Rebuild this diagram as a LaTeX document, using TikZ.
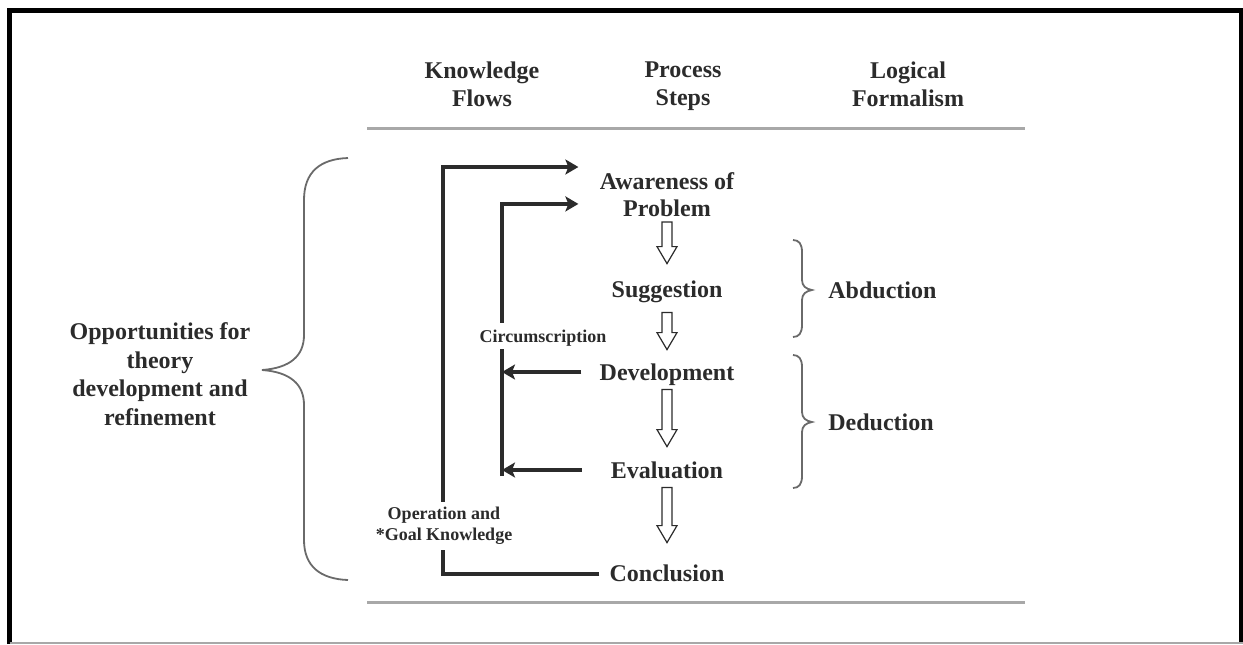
\documentclass[tikz,border=0pt]{standalone}
\usepackage{fontspec}
\setmainfont{Liberation Serif}
\usetikzlibrary{arrows.meta,calc}

\definecolor{ink}{HTML}{2B2B2B}
\definecolor{rulegray}{HTML}{A8A8A8}
\definecolor{bracegray}{HTML}{6A6A6A}

% hollow block arrow pointing down from #1 to #2
\newcommand\hollowarrow[2]{%
  \draw[hollow] let \p1=(#1), \p2=(#2) in
    (\x1-2.5pt,\y1) -- (\x1-2.5pt,\y2+8.5pt) -- (\x1-5pt,\y2+8.5pt) -- (\x1,\y2)
    -- (\x1+5pt,\y2+8.5pt) -- (\x1+2.5pt,\y2+8.5pt) -- (\x1+2.5pt,\y1) -- cycle;}

\begin{document}
\begin{tikzpicture}[x=0.5pt,y=-0.5pt,
  head/.style={font=\fontsize{12}{14}\selectfont\bfseries, text=ink, inner sep=0pt, align=center},
  multistep/.style={font=\fontsize{12}{13.5}\selectfont\bfseries, text=ink, inner sep=0pt, align=center},
  steplbl/.style={font=\fontsize{12}{14}\selectfont\bfseries, text=ink, inner sep=0pt, text height=8pt, text depth=0pt},
  sidelbl/.style={font=\fontsize{12}{14.35}\selectfont\bfseries, text=ink, inner sep=0pt, align=center},
  flowlbl/.style={font=\fontsize{9}{10.5}\selectfont\bfseries, text=ink, align=center, fill=white, inner xsep=1pt},
  flow/.style={draw=ink, line width=1.7pt},
  tip/.style={-{Stealth[length=6.5pt,width=7.5pt,inset=1.5pt]}},
  hollow/.style={draw=ink, line width=0.6pt, fill=white},
  bracestyle/.style={draw=bracegray, line width=0.9pt},
  rulestyle/.style={draw=rulegray, line width=1.5pt}]

\useasboundingbox (0,0) rectangle (1243,644);

% outer frame
\draw[black, line width=2.2pt] (9.5,644) -- (9.5,10.5) -- (1241,10.5) -- (1241,644);
\draw[rulegray, line width=0.8pt] (9.5,643) -- (1243,643);

% column headings
\node[head, anchor=north] (hk) at (482,61) {Knowledge\\Flows};
\node[head, anchor=north] (hp) at (683,61) {Process\\Steps};
\node[head, anchor=north] (hl) at (908,61) {Logical\\Formalism};

% horizontal rules
\draw[rulestyle] (367,128) -- (1025,128);
\draw[rulestyle] (367,602.5) -- (1025,602.5);

% process steps
\node[multistep, anchor=north] (prob) at (667,172) {Awareness of\\Problem};
\node[steplbl] (sugg) at (667,289) {Suggestion};
\node[steplbl] (dev) at (667,372) {Development};
\node[steplbl] (eval) at (667,470) {Evaluation};
\node[steplbl] (concl) at (667,573) {Conclusion};

% hollow arrows between steps
\hollowarrow{$(prob.south)+(0,5)$}{$(sugg.north)+(0,-17)$}
\hollowarrow{$(sugg.south)+(0,15)$}{$(dev.north)+(0,-14)$}
\hollowarrow{$(dev.south)+(0,9)$}{$(eval.north)+(0,-15)$}
\hollowarrow{$(eval.south)+(0,9)$}{$(concl.north)+(0,-22)$}

% knowledge flows
\coordinate (outerx) at (443,0);
\coordinate (innerx) at (502,0);
\draw[flow, tip] ($(concl.west)+(-10,1)$) -- ($(concl.west -| outerx)+(0,1)$)
  |- ($(prob.north west)+(-21,-5)$);
\draw[flow, tip] ($(eval.west -| innerx)+(0,6)$) |- ($(prob.south west)+(-21,-13)$);
\draw[flow, tip] ($(dev.west)+(-18,0)$) -- (dev.west -| innerx);
\draw[flow, tip] ($(eval.west)+(-29,0)$) -- (eval.west -| innerx);

% flow labels
\node[flowlbl, text height=6pt, text depth=0pt, inner ysep=3.5pt] (circ) at (543,336) {Circumscription};
\node[flowlbl, anchor=north, inner ysep=2.5pt] (opk) at (444,502) {Operation and\\*Goal Knowledge};

% left brace and its label
\draw[bracestyle] (348,158) .. controls (320,159) and (304,172) .. (304,200)
  -- (304,335) .. controls (304,356) and (290,368) .. (262,370)
  .. controls (290,372) and (304,384) .. (304,405)
  -- (304,540) .. controls (304,566) and (320,579) .. (348,580);
\node[sidelbl, anchor=north] (opp) at (160,322) {Opportunities for\\theory\\development and\\refinement};

% logical formalism braces
\draw[bracestyle] (793,240) .. controls (799,240) and (802,244) .. (802,252)
  -- (802,280) .. controls (802,286) and (806,289) .. (812,290)
  .. controls (806,291) and (802,294) .. (802,300)
  -- (802,325) .. controls (802,333) and (799,337) .. (793,337);
\draw[bracestyle] (793,355) .. controls (799,355) and (802,359) .. (802,367)
  -- (802,412) .. controls (802,418) and (806,421) .. (812,422)
  .. controls (806,423) and (802,426) .. (802,432)
  -- (802,476) .. controls (802,484) and (799,488) .. (793,488);
\node[steplbl, anchor=west] (abd) at (828,290) {Abduction};
\node[steplbl, anchor=west] (ded) at (828,422) {Deduction};

\end{tikzpicture}
\end{document}
